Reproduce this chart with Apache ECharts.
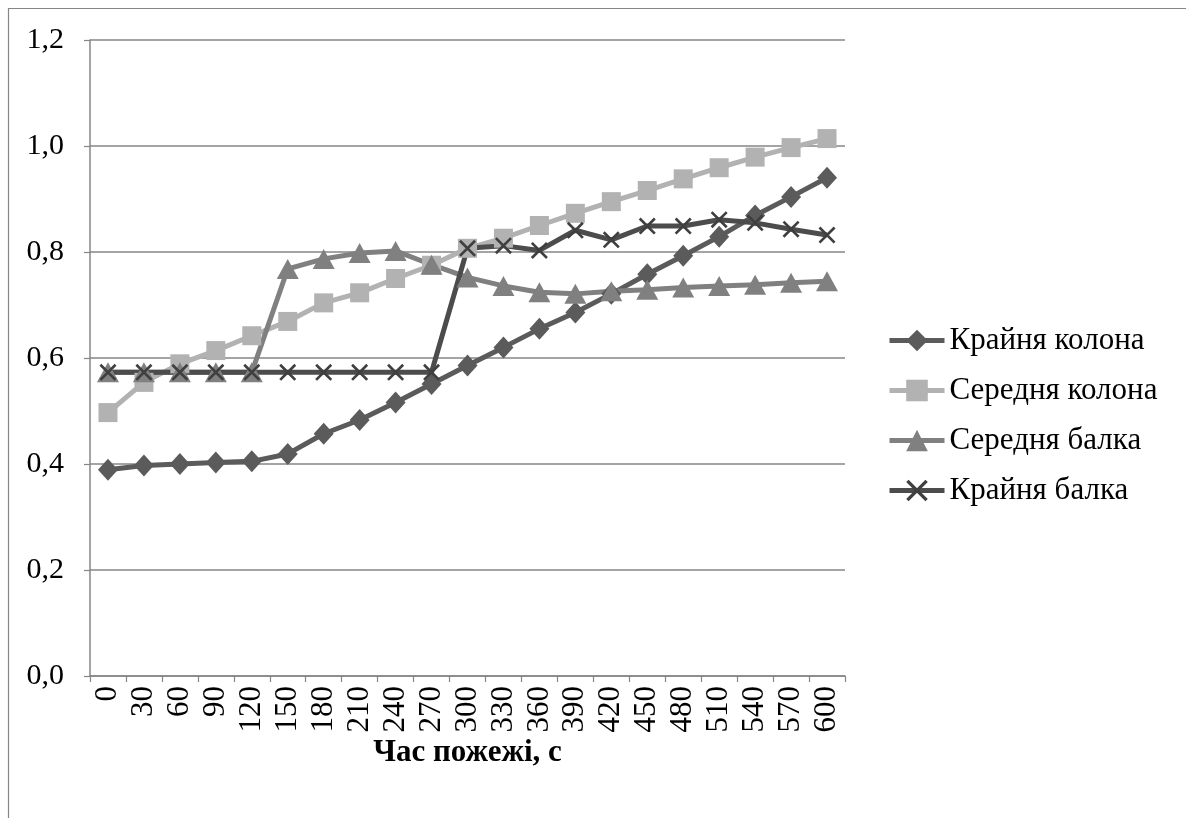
<!DOCTYPE html>
<html>
<head>
<meta charset="utf-8">
<script src="https://cdn.jsdelivr.net/npm/echarts@6/dist/echarts.min.js"></script>
<style>
  html, body { margin: 0; padding: 0; background: #fff; }
  #chart { width: 1186px; height: 818px; }
</style>
</head>
<body>
<div id="chart"></div>
<script>
// Fire time, seconds
const times = ['0','30','60','90','120','150','180','210','240','270','300','330','360','390','420','450','480','510','540','570','600'];

// Utilisation ratio per structural element
const outerColumn = [0.389,0.397,0.400,0.403,0.405,0.419,0.457,0.483,0.516,0.551,0.586,0.620,0.655,0.686,0.721,0.758,0.793,0.829,0.869,0.904,0.940];
const middleColumn = [0.497,0.554,0.589,0.614,0.642,0.669,0.704,0.723,0.750,0.775,0.807,0.826,0.850,0.873,0.895,0.916,0.938,0.959,0.979,0.997,1.014];
const middleBeam = [0.573,0.573,0.573,0.573,0.573,0.768,0.787,0.798,0.802,0.776,0.752,0.736,0.724,0.721,0.726,0.729,0.733,0.736,0.738,0.742,0.745];
const outerBeam = [0.573,0.573,0.573,0.573,0.573,0.573,0.573,0.573,0.573,0.573,0.807,0.812,0.803,0.841,0.823,0.849,0.849,0.861,0.855,0.843,0.832];

const seriesNames = ['Крайня колона','Середня колона','Середня балка','Крайня балка'];

const crossSymbol = 'path://M0,1.1 L1.1,0 L10,8.9 L8.9,10 Z M8.9,0 L10,1.1 L1.1,10 L0,8.9 Z';
const serif = '"Liberation Serif", "DejaVu Serif", serif';

function lineSeries(name, data, color, symbol, size, markColor) {
  return {
    name: name,
    type: 'line',
    data: data,
    symbol: symbol,
    symbolSize: size,
    showAllSymbol: true,
    lineStyle: { color: color, width: 5 },
    itemStyle: { color: markColor || color, borderWidth: 0 },
    emphasis: { disabled: true },
    animation: false
  };
}

const chart = echarts.init(document.getElementById('chart'));
chart.setOption({
  backgroundColor: '#ffffff',
  animation: false,
  graphic: [{
    type: 'rect',
    shape: { x: 8.5, y: 8.5, width: 1200, height: 830 },
    style: { fill: 'none', stroke: '#868686', lineWidth: 1.2 },
    silent: true
  }],
  grid: { left: 90, right: 341, top: 40, bottom: 142 },
  legend: {
    orient: 'vertical',
    left: 882,
    top: 320,
    itemWidth: 55,
    itemHeight: 27,
    itemGap: 19,
    lineStyle: { width: 5 },
    textStyle: { fontFamily: serif, fontSize: 31, color: '#000' },
    data: seriesNames
  },
  xAxis: {
    type: 'category',
    data: times,
    boundaryGap: true,
    name: 'Час пожежі, с',
    nameLocation: 'middle',
    nameGap: 61,
    nameMoveOverlap: false,
    nameTextStyle: { fontFamily: serif, fontSize: 31, fontWeight: 'bold', color: '#000' },
    axisLine: { lineStyle: { color: '#868686', width: 1.5 } },
    axisTick: { show: true, alignWithLabel: false, length: 6, lineStyle: { color: '#868686', width: 1.2 } },
    axisLabel: { rotate: 90, interval: 0, margin: 10, fontFamily: serif, fontSize: 31, color: '#000' }
  },
  yAxis: {
    type: 'value',
    min: 0,
    max: 1.2,
    interval: 0.2,
    axisLine: { show: true, lineStyle: { color: '#868686', width: 1.5 } },
    axisTick: { show: true, length: 6, lineStyle: { color: '#868686', width: 1.2 } },
    splitLine: { lineStyle: { color: '#868686', width: 1.5 } },
    axisLabel: {
      margin: 26,
      fontFamily: serif,
      fontSize: 30,
      color: '#000',
      formatter: v => v.toFixed(1).replace('.', ',')
    }
  },
  series: [
    lineSeries(seriesNames[0], outerColumn, '#5b5b5b', 'diamond', [20, 22]),
    lineSeries(seriesNames[1], middleColumn, '#b2b2b2', 'rect', 19),
    lineSeries(seriesNames[2], middleBeam, '#808080', 'triangle', [22, 20]),
    lineSeries(seriesNames[3], outerBeam, '#4c4c4c', crossSymbol, 17, '#3f3f3f')
  ]
});
</script>
</body>
</html>
